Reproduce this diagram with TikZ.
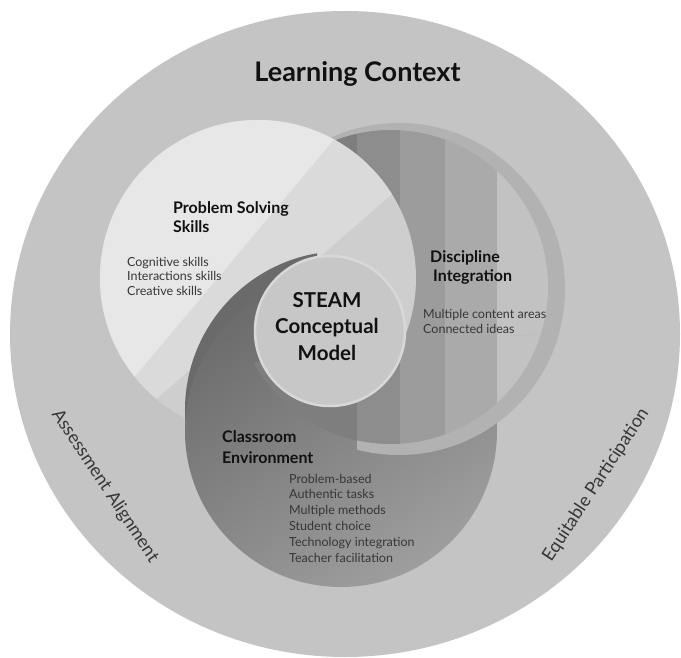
\documentclass[tikz,border=0pt]{standalone}
\usepackage{fontspec}
\setmainfont{Lato}
\definecolor{ringc}{HTML}{C4C4C4}
\definecolor{drim}{HTML}{B2B2B2}
\definecolor{dsa}{HTML}{7E7E7E}
\definecolor{dsb}{HTML}{8D8D8D}
\definecolor{dsc}{HTML}{9C9C9C}
\definecolor{dsd}{HTML}{AAAAAA}
\definecolor{dse}{HTML}{C2C2C2}
\definecolor{la}{HTML}{E7E7E7}
\definecolor{lb}{HTML}{DADADA}
\definecolor{lc}{HTML}{CECECE}
\definecolor{cdark}{HTML}{6A6A6A}
\definecolor{ctop}{HTML}{6C6C6C}
\definecolor{cbot}{HTML}{9E9E9E}
\definecolor{sfill}{HTML}{C7C7C7}
\definecolor{srim}{HTML}{D8D8D8}
\definecolor{headc}{HTML}{111111}
\definecolor{itemc}{HTML}{363636}
\newcommand\drawDiscRim{%
  \fill[drim] (399,289) circle[radius=166pt];}
\newcommand\drawDiscStripes{%
  \begin{scope}
    \clip (391,287) circle[radius=157pt];
    \fill[dsa] (200,100) rectangle (357,500);
    \fill[dsb] (357,100) rectangle (400,500);
    \fill[dsc] (400,100) rectangle (445,500);
    \fill[dsd] (445,100) rectangle (497,500);
    \fill[dse] (497,100) rectangle (600,500);
  \end{scope}}
\tikzset{
  head/.style={font=\fontsize{16}{19}\selectfont\bfseries, text=headc, inner sep=0pt, anchor=base west},
  itemtxt/.style={font=\fontsize{12.5}{15}\selectfont, text=itemc, inner sep=0pt, anchor=base west},
  steamtxt/.style={font=\fontsize{20.5}{25}\selectfont\bfseries, text=headc, inner sep=0pt, anchor=base},
  ringtxt/.style={font=\fontsize{18}{21}\selectfont, text=itemc, inner sep=0pt, anchor=center}
}
\begin{document}
\begin{tikzpicture}[x=1pt,y=-1pt]
\useasboundingbox (0,0) rectangle (681,658);
\fill[white] (0,0) rectangle (681,658);
% outer learning context
\fill[ringc] (345,334) ellipse [x radius=335pt, y radius=323pt];
% discipline integration
\drawDiscRim
\drawDiscStripes
% problem solving circle
\begin{scope}
  \clip (258,278) circle[radius=158pt];
  \fill[lc] (80,100) rectangle (440,460);
  \fill[lb] (0,535) -- (560,48) -- (560,0) -- (0,0) -- cycle;
  \fill[la] (0,537) -- (450,1.5) -- (0,0) -- cycle;
\end{scope}
% classroom environment (kept out of the wedge right of the centre)
\begin{scope}
  \clip (330,331) -- (705,340) -- (705,700) -- (-5,700) -- (-5,-5) -- (330,-5) -- cycle;
  \begin{scope}
    \clip (-5,-5) rectangle (317,700);
    \fill[cdark] (344,410) circle[radius=159pt];
  \end{scope}
  \shade[top color=ctop, bottom color=cbot, shading angle=35] (341,431) circle[radius=156pt];
\end{scope}
% discipline over classroom, below the centre
\begin{scope}
  \clip (330,331) -- (705,340) -- (705,700) -- (-5,700) -- (-5,474) -- cycle;
  \begin{scope}
    \clip (357,0) rectangle (681,658);
    \drawDiscRim
  \end{scope}
  \drawDiscStripes
\end{scope}
% centre
\fill[sfill, draw=srim, line width=2.5pt] (330,331) circle[radius=75pt];
% texts
\node[font=\fontsize{27}{32}\selectfont\bfseries, text=headc, inner sep=0pt, anchor=base] (lc) at (357.5,82) {Learning Context};
\node[steamtxt] (st1) at (327,308) {STEAM};
\node[steamtxt] (st2) at (327,334) {Conceptual};
\node[steamtxt] (st3) at (327,360) {Model};
\node[head] (ps1) at (173,214) {Problem Solving};
\node[head] (ps2) at (173,233) {Skills};
\node[itemtxt] (psa) at (127,266) {Cognitive skills};
\node[itemtxt] (psb) at (127,280.5) {Interactions skills};
\node[itemtxt] (psc) at (127,295) {Creative skills};
\node[head] (di1) at (430,263) {Discipline};
\node[head] (di2) at (433,282) {Integration};
\node[itemtxt] (dia) at (423,318.5) {Multiple content areas};
\node[itemtxt] (dib) at (423,333) {Connected ideas};
\node[head] (ce1) at (222,442) {Classroom};
\node[head] (ce2) at (222,463) {Environment};
\node[itemtxt] (cea) at (289,483) {Problem-based};
\node[itemtxt] (ceb) at (289,498.8) {Authentic tasks};
\node[itemtxt] (cec) at (289,514.6) {Multiple methods};
\node[itemtxt] (ced) at (289,530.4) {Student choice};
\node[itemtxt] (cee) at (289,546.2) {Technology integration};
\node[itemtxt] (cef) at (289,562) {Teacher facilitation};
\node[ringtxt, rotate=-56.5] (aa) at (105,486) {Assessment Alignment};
\node[ringtxt, rotate=56.8] (ep) at (596,485) {Equitable Participation};
\end{tikzpicture}
\end{document}
